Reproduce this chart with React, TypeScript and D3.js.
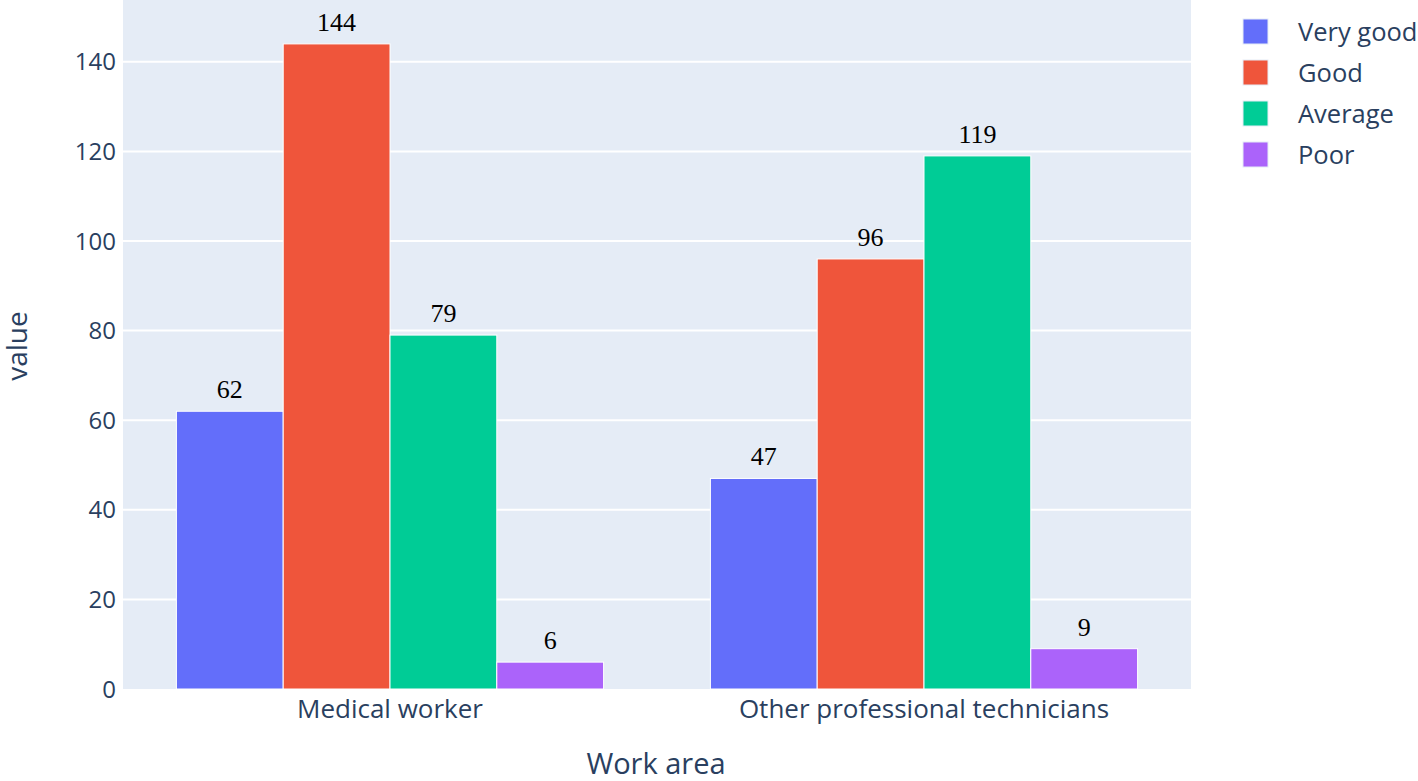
import * as d3 from "d3";
import React from "react";

const categories = ["Medical worker", "Other professional technicians"];
const seriesNames = ["Very good", "Good", "Average", "Poor"];
const colors = ["#636efa", "#ef553b", "#00cc96", "#ab63fa"];
const values = [
  [62, 47],
  [144, 96],
  [79, 119],
  [6, 9],
];
const yTicks = [0, 20, 40, 60, 80, 100, 120, 140];

const W = 1418;
const H = 781;
const plot = { left: 123, right: 1191, top: 0, bottom: 689 };
const font = "'Open Sans', sans-serif";
const ink = "#2a3f5f";

const App: React.FC = () => {
  const x = d3
    .scaleBand<string>()
    .domain(categories)
    .range([plot.left, plot.right])
    .paddingInner(0.2)
    .paddingOuter(0.1);
  const xs = d3
    .scaleBand<string>()
    .domain(seriesNames)
    .range([0, x.bandwidth()]);
  const y = d3.scaleLinear().domain([0, 153.8]).range([plot.bottom, plot.top]);

  return (
    <svg width={W} height={H} style={{ display: "block", position: "absolute", left: 0, top: 0 }}>
      <rect x={0} y={0} width={W} height={H} fill="#fff" />
      <rect
        x={plot.left}
        y={plot.top}
        width={plot.right - plot.left}
        height={plot.bottom - plot.top}
        fill="#e5ecf6"
      />
      {yTicks.map((t) => (
        <g key={t}>
          {t > 0 && (
            <line
              x1={plot.left}
              x2={plot.right}
              y1={y(t)}
              y2={y(t)}
              stroke="#fff"
              strokeWidth={2}
            />
          )}
          <text
            x={plot.left - 7}
            y={y(t)}
            dy="0.36em"
            textAnchor="end"
            fontFamily={font}
            fontSize={24}
            fill={ink}
          >
            {t}
          </text>
        </g>
      ))}
      {seriesNames.map((s, si) => (
        <g key={s}>
          {categories.map((c, ci) => {
            const v = values[si][ci];
            const bx = x(c)! + xs(s)!;
            return (
              <g key={c}>
                <rect
                  x={bx}
                  y={y(v)}
                  width={xs.bandwidth()}
                  height={y(0) - y(v)}
                  fill={colors[si]}
                  stroke="#fff"
                  strokeWidth={1}
                />
                <text
                  x={bx + xs.bandwidth() / 2}
                  y={y(v) - 13}
                  textAnchor="middle"
                  fontFamily="'Liberation Serif', 'Times New Roman', serif"
                  fontSize={26}
                  fill="#000"
                >
                  {v}
                </text>
              </g>
            );
          })}
        </g>
      ))}
      {categories.map((c) => (
        <text
          key={c}
          x={x(c)! + x.bandwidth() / 2}
          y={718}
          textAnchor="middle"
          fontFamily={font}
          fontSize={26}
          fill={ink}
        >
          {c}
        </text>
      ))}
      <text
        x={656}
        y={774}
        textAnchor="middle"
        fontFamily={font}
        fontSize={29}
        fill={ink}
      >
        Work area
      </text>
      <text
        transform={`translate(27, 346) rotate(-90)`}
        textAnchor="middle"
        fontFamily={font}
        fontSize={28}
        fill={ink}
      >
        value
      </text>
      {seriesNames.map((s, i) => (
        <g key={s} transform={`translate(1243, ${19 + i * 41})`}>
          <rect x={0} y={0} width={25} height={25} fill={colors[i]} stroke="#e5ecf6" strokeWidth={1} />
          <text
            x={55}
            y={12.5}
            dy="0.36em"
            fontFamily={font}
            fontSize={25.5}
            fill={ink}
          >
            {s}
          </text>
        </g>
      ))}
    </svg>
  );
};

export default App;
